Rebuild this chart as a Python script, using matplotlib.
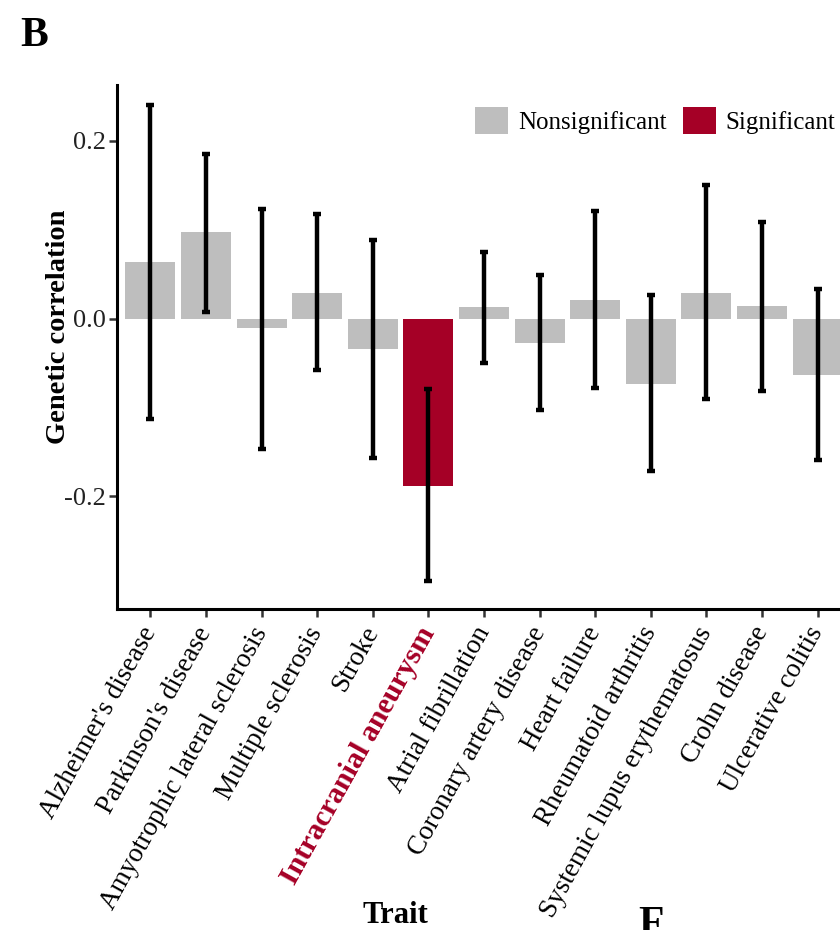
import matplotlib
matplotlib.use("Agg")
import matplotlib.pyplot as plt
from matplotlib.patches import Patch
import numpy as np

plt.rcParams["font.family"] = ["Liberation Serif", "DejaVu Serif"]

traits = ["Alzheimer's disease", "Parkinson's disease", "Amyotrophic lateral sclerosis",
          "Multiple sclerosis", "Stroke", "Intracranial aneurysm", "Atrial fibrillation",
          "Coronary artery disease", "Heart failure", "Rheumatoid arthritis",
          "Systemic lupus erythematosus", "Crohn disease", "Ulcerative colitis"]
rg = [0.064, 0.097, -0.011, 0.029, -0.034, -0.188, 0.013, -0.027, 0.021, -0.074, 0.029, 0.014, -0.063]
ci_low = [-0.113, 0.007, -0.147, -0.058, -0.157, -0.295, -0.050, -0.103, -0.078, -0.172, -0.091, -0.081, -0.159]
ci_high = [0.241, 0.185, 0.123, 0.118, 0.089, -0.079, 0.075, 0.049, 0.121, 0.027, 0.150, 0.109, 0.033]
significant = [False, False, False, False, False, True, False, False, False, False, False, False, False]
yticks = [-0.2, 0.0, 0.2]
ytick_labels = ["-0.2", "0.0", "0.2"]

GREY = "#BEBEBE"
RED = "#A50026"

W, H = 840, 930
fig = plt.figure(figsize=(W / 100, H / 100), dpi=100)
ax = fig.add_axes([117 / W, 1 - 609 / H, (851 - 117) / W, (609 - 85) / H])

x = np.arange(1, len(traits) + 1)
colors = [RED if s else GREY for s in significant]
ax.bar(x, rg, width=0.9, color=colors, zorder=1)

rg_arr = np.array(rg)
yerr = np.vstack([rg_arr - np.array(ci_low), np.array(ci_high) - rg_arr])
ax.errorbar(x, rg_arr, yerr=yerr, fmt="none", ecolor="black", elinewidth=3.2,
            capsize=2.6, capthick=3.2, zorder=2)

ax.set_xlim(0.4, 13.6)
ax.set_ylim(-0.327, 0.263)
ax.set_yticks(yticks)
ax.set_yticklabels(ytick_labels)
ax.set_xticks(x)
ax.set_xticklabels(traits, rotation=61, ha="right", va="center", rotation_mode="anchor")

ax.tick_params(axis="both", length=6, width=1.8, color="#333333")
ax.tick_params(axis="y", labelsize=19, pad=2)
ax.tick_params(axis="x", labelsize=19.5, pad=8)
for lab in ax.get_yticklabels():
    lab.set_color("#222222")
for lab, sig in zip(ax.get_xticklabels(), significant):
    if sig:
        lab.set_color(RED)
        lab.set_fontweight("bold")
        lab.set_fontsize(21.5)

for side in ["top", "right"]:
    ax.spines[side].set_visible(False)
for side in ["left", "bottom"]:
    ax.spines[side].set_linewidth(2.2)
    ax.spines[side].set_color("black")

ax.set_ylabel("Genetic correlation", fontsize=20.5, fontweight="bold")
ax.yaxis.set_label_coords(-0.063, 0.538)

fig.text(395 / W, 1 - 915 / H, "Trait", fontsize=22, fontweight="bold",
         ha="center", va="center")

handles = [Patch(facecolor=GREY, label="Nonsignificant"),
           Patch(facecolor=RED, label="Significant")]
fig.legend(handles=handles, loc="center left", bbox_to_anchor=(475 / W, 1 - 120.5 / H),
           bbox_transform=fig.transFigure, ncol=2, frameon=False, fontsize=18,
           handlelength=1.32, handleheight=1.32, handletextpad=0.4,
           columnspacing=0.65, borderpad=0, borderaxespad=0)

fig.text(20 / W, 1 - 17 / H, "B", fontsize=30, fontweight="bold", ha="left", va="top")
fig.text(638 / W, 1 - 906 / H, "F", fontsize=30, fontweight="bold", ha="left", va="top")

fig.savefig("out.png", dpi=100)
